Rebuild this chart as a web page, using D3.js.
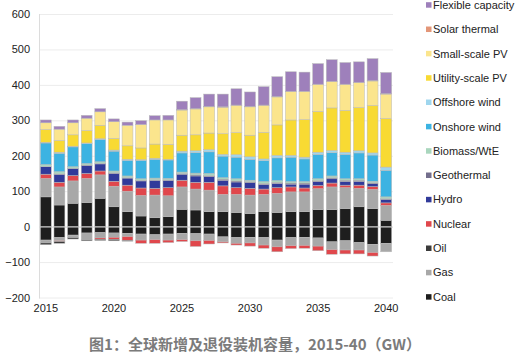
<!DOCTYPE html>
<html>
<head>
<meta charset="utf-8">
<script src="https://cdn.jsdelivr.net/npm/d3@7"></script>
<style>
  body { margin: 0; background: #fff; }
  svg { display: block; font-family: "Liberation Sans", Arial, sans-serif; }
</style>
</head>
<body>
<div id="chart"></div>
<script>
// years on the x axis
var years = d3.range(2015, 2041);
var yTicks = [-200, -100, 0, 100, 200, 300, 400, 500, 600];
var xTicks = [2015, 2020, 2025, 2030, 2035, 2040];

// capacity additions, GW (bottom to top)
var coalAdd     = [84, 61, 66, 68, 80, 56, 42, 30, 25, 28, 49, 47, 42, 42, 40, 37, 42, 40, 42, 42, 48, 48, 51, 56, 51, 18];
var gasAdd      = [52, 51, 63, 68, 66, 58, 58, 58, 64, 59, 63, 59, 61, 49, 51, 52, 49, 54, 56, 56, 59, 64, 59, 52, 54, 42];
var oilAdd      = [0, 0, 0, 0, 0, 0, 0, 0, 0, 0, 0, 0, 0, 0, 0, 0, 0, 0, 0, 0, 0, 0, 0, 0, 0, 0];
var nuclearAdd  = [12, 13, 15, 14, 11, 14, 17, 21, 19, 23, 19, 19, 22, 24, 19, 19, 15, 16, 14, 11, 9, 11, 7, 9, 8, 7];
var hydroAdd    = [21, 22, 20, 22, 20, 22, 20, 20, 22, 20, 17, 18, 16, 16, 16, 16, 13, 12, 8, 11, 11, 12, 11, 11, 8, 10];
var geoAdd      = [1, 2, 1, 2, 2, 2, 1, 2, 2, 2, 2, 3, 3, 3, 3, 3, 3, 3, 3, 3, 3, 3, 3, 3, 3, 2];
var biomassAdd  = [5, 6, 4, 4, 4, 5, 5, 4, 5, 4, 4, 5, 6, 4, 6, 4, 5, 5, 4, 4, 5, 5, 4, 4, 4, 5];
var onshoreAdd  = [61, 52, 56, 56, 63, 56, 44, 52, 53, 52, 54, 58, 61, 61, 61, 59, 59, 64, 69, 64, 69, 66, 69, 73, 74, 75];
var offshoreAdd = [2, 3, 2, 2, 2, 3, 3, 2, 3, 2, 5, 5, 6, 5, 7, 7, 5, 7, 5, 5, 6, 6, 6, 6, 6, 9];
var utilityAdd  = [36, 33, 32, 35, 38, 33, 38, 33, 40, 42, 45, 45, 47, 58, 62, 61, 75, 86, 100, 106, 115, 120, 118, 122, 134, 137];
var smallAdd    = [19, 32, 34, 35, 38, 47, 58, 66, 68, 69, 71, 73, 74, 75, 77, 80, 76, 79, 80, 79, 76, 74, 73, 70, 69, 69];
var thermalAdd  = [0, 0, 0, 0, 0, 0, 0, 0, 0, 0, 1, 1, 1, 1, 1, 1, 1, 1, 1, 1, 1, 1, 1, 1, 1, 1];
var flexAdd     = [8, 8, 8, 8, 9, 8, 9, 11, 12, 13, 24, 31, 35, 36, 46, 41, 52, 56, 55, 54, 58, 61, 61, 58, 62, 60];

// retirements, GW (top to bottom below zero)
var coalRet    = [-38, -31, -24, -18, -17, -18, -19, -21, -23, -21, -19, -20, -21, -29, -31, -30, -31, -38, -31, -30, -32, -43, -40, -45, -50, -47];
var gasRet     = [-8, -9, -7, -19, -15, -12, -9, -17, -14, -17, -18, -20, -18, -14, -16, -16, -21, -19, -23, -23, -23, -22, -26, -21, -23, -24];
var nuclearRet = [0, -2, 0, 0, -4, -6, -11, -9, -10, -7, -5, -16, -10, -3, -5, -9, -9, -14, -8, -8, -13, -13, -11, -11, -10, 0];
var oilRet     = [-5, -5, -4, -3, -3, -4, -2, 0, 0, 0, 0, 0, 0, 0, 0, 0, 0, 0, 0, 0, 0, 0, 0, 0, 0, 0];

var series = [
  {key: 'coal', name: 'Coal', color: '#1e1e1e', values: coalAdd},
  {key: 'gas', name: 'Gas', color: '#a8a8a8', values: gasAdd},
  {key: 'oil', name: 'Oil', color: '#3b3b3b', values: oilAdd},
  {key: 'nuclear', name: 'Nuclear', color: '#e0474c', values: nuclearAdd},
  {key: 'hydro', name: 'Hydro', color: '#313a9a', values: hydroAdd},
  {key: 'geo', name: 'Geothermal', color: '#736e8c', values: geoAdd},
  {key: 'biomass', name: 'Biomass/WtE', color: '#a9d6bd', values: biomassAdd},
  {key: 'onshore', name: 'Onshore wind', color: '#3cb3e2', values: onshoreAdd},
  {key: 'offshore', name: 'Offshore wind', color: '#9fd6ee', values: offshoreAdd},
  {key: 'utility', name: 'Utility-scale PV', color: '#f8da33', values: utilityAdd},
  {key: 'small', name: 'Small-scale PV', color: '#fbe58d', values: smallAdd},
  {key: 'thermal', name: 'Solar thermal', color: '#e39678', values: thermalAdd},
  {key: 'flex', name: 'Flexible capacity', color: '#9e80bb', values: flexAdd},
  {key: 'coalR', color: '#1e1e1e', values: coalRet},
  {key: 'gasR', color: '#a8a8a8', values: gasRet},
  {key: 'nuclearR', color: '#e0474c', values: nuclearRet},
  {key: 'oilR', color: '#3b3b3b', values: oilRet}
];

var W = 519, H = 362;
var plot = {left: 39, right: 393, top: 14, bottom: 297.5};

var svg = d3.select('#chart').append('svg').attr('width', W).attr('height', H);

var x = d3.scaleBand().domain(years).range([plot.left, plot.right])
  .paddingInner(0.2).paddingOuter(0.1);
var y = d3.scaleLinear().domain([-200, 600]).range([plot.bottom, plot.top]);

// gridlines
svg.append('g').selectAll('line').data(yTicks).enter().append('line')
  .attr('x1', plot.left).attr('x2', plot.right)
  .attr('y1', function(d){ return y(d) + 0.5; })
  .attr('y2', function(d){ return y(d) + 0.5; })
  .style('stroke', '#ececec');

svg.append('line')
  .attr('x1', plot.left + 0.5).attr('x2', plot.left + 0.5)
  .attr('y1', plot.top).attr('y2', plot.bottom + 1)
  .style('stroke', '#dcdcdc');

// stacked bars
var table = years.map(function(yr, i){
  var row = {year: yr};
  series.forEach(function(s){ row[s.key] = s.values[i]; });
  return row;
});

var stacked = d3.stack()
  .keys(series.map(function(s){ return s.key; }))
  .offset(d3.stackOffsetDiverging)(table);

var layers = svg.append('g').selectAll('g').data(stacked).enter().append('g')
  .style('fill', function(d, i){ return series[i].color; });

layers.selectAll('rect')
  .data(function(d){ return d.filter(function(p){ return p[1] !== p[0]; }); })
  .enter().append('rect')
  .attr('x', function(d){ return x(d.data.year); })
  .attr('width', x.bandwidth())
  .attr('y', function(d){ return y(Math.max(d[0], d[1])); })
  .attr('height', function(d){ return Math.abs(y(d[0]) - y(d[1])); })
  .style('stroke', '#b9b9b9')
  .style('stroke-width', 0.5);

// zero line over the bars
svg.append('line')
  .attr('x1', plot.left).attr('x2', plot.right)
  .attr('y1', y(0) + 0.5).attr('y2', y(0) + 0.5)
  .style('stroke', '#d4d4d4').style('stroke-width', 0.8);

// axes
var yAxis = svg.append('g')
  .attr('transform', 'translate(' + (plot.left - 9) + ',0)')
  .call(d3.axisLeft(y).tickValues(yTicks).tickSize(0).tickPadding(0));
yAxis.select('.domain').remove();
yAxis.selectAll('text').style('font-size', '11px').style('fill', '#222')
  .style('font-family', '"Liberation Sans", Arial, sans-serif');

var xAxis = svg.append('g')
  .attr('transform', 'translate(0,' + (plot.bottom + 7) + ')')
  .call(d3.axisBottom(x).tickValues(xTicks).tickSize(0).tickPadding(0));
xAxis.select('.domain').remove();
xAxis.selectAll('text').style('font-size', '11px').style('fill', '#222')
  .style('font-family', '"Liberation Sans", Arial, sans-serif');

// legend
var legendItems = series.slice(0, 13).reverse();
var legend = svg.append('g').selectAll('g').data(legendItems).enter().append('g')
  .attr('transform', function(d, i){ return 'translate(426,' + (5 + i * 24.33) + ')'; });

legend.append('rect')
  .attr('x', 0).attr('y', -2.8).attr('width', 5.5).attr('height', 5.5)
  .style('fill', function(d){ return d.color; });

legend.append('text')
  .attr('x', 7).attr('dy', '0.35em')
  .style('font-size', '11px').style('fill', '#222')
  .text(function(d){ return d.name; });

// caption
svg.append('text')
  .attr('x', 255).attr('y', 345).attr('dy', '0.35em')
  .attr('text-anchor', 'middle')
  .style('font-family', '"Noto Sans CJK SC", sans-serif')
  .style('font-size', '15px').style('font-weight', 'bold').style('fill', '#7b7b7b')
  .text('图1：全球新增及退役装机容量，2015-40（GW）');
</script>
</body>
</html>
